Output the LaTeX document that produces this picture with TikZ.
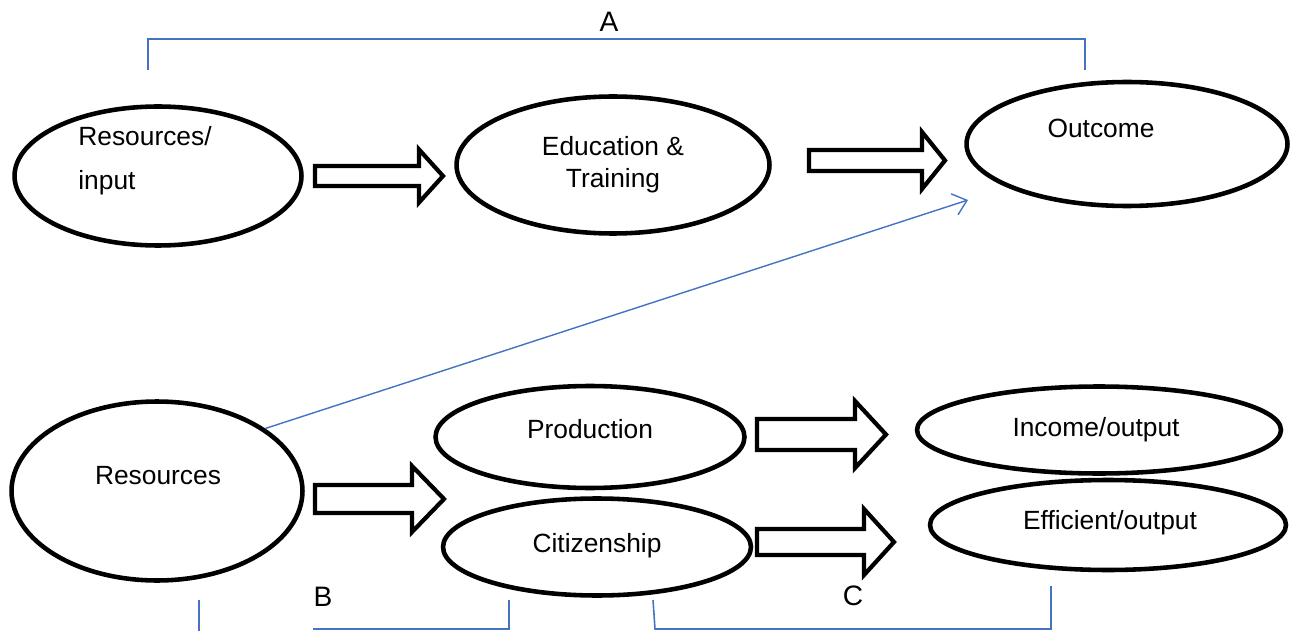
\documentclass[tikz,border=0pt]{standalone}
\usepackage{fontspec}
\setmainfont{Liberation Sans}
\usetikzlibrary{shapes.geometric,arrows.meta,positioning,calc}
\definecolor{azulLinha}{RGB}{68,114,196}
\tikzset{
  oval/.style={ellipse, draw=black, line width=2.6pt, inner sep=0pt},
  texto/.style={font=\fontsize{15}{18}\selectfont, inner sep=0pt, anchor=base},
  letra/.style={font=\fontsize{16}{19}\selectfont, inner sep=0pt, anchor=base},
  % block arrow: length, shaft half width, head half width, head length
  pics/setabloco/.style n args={4}{code={
    \draw[line width=2.4pt, line join=miter]
      (0,-#2) -- ({#1-#4},-#2) -- ({#1-#4},-#3) -- (#1,0)
      -- ({#1-#4},#3) -- ({#1-#4},#2) -- (0,#2) -- cycle;
  }},
  chave/.style={azulLinha, line width=0.9pt},
  seta/.style={-{Straight Barb[length=2.6mm,width=4.4mm]}, azulLinha, line width=0.8pt},
}
\begin{document}
\begin{tikzpicture}[x=0.02cm,y=-0.02cm]
  \useasboundingbox (0,0) rectangle (1300,631);
  % first row
  \node[oval, minimum width=5.74cm, minimum height=2.78cm] (recursos) at (158,176) {};
  \node[oval, minimum width=6.26cm, minimum height=2.74cm] (educacao) at (613,165) {};
  \node[oval, minimum width=6.42cm, minimum height=2.48cm] (resultado) at (1127,144) {};
  \node[texto, anchor=base west] (tRec) at (78,146) {Resources/};
  \node[texto, anchor=base west] (tInp) at (78,190) {input};
  \node[texto] (tEdu) at (613,156) {Education \&};
  \node[texto] (tTre) at (613,188) {Training};
  \node[texto] (tRes) at (1101,138) {Outcome};
  \pic (s1) at (315,176) {setabloco={128}{10}{26.5}{24}};
  \pic (s2) at (809,160.5) {setabloco={136}{10.5}{28.5}{23}};
  % second row
  \node[oval, minimum width=5.82cm, minimum height=3.58cm] (recursos2) at (157,491) {};
  \node[oval, minimum width=6.18cm, minimum height=2.04cm] (producao) at (590,437) {};
  \node[oval, minimum width=6.16cm, minimum height=1.94cm] (cidadania) at (597,547) {};
  \node[oval, minimum width=7.28cm, minimum height=1.74cm] (renda) at (1099,430) {};
  \node[oval, minimum width=7.12cm, minimum height=1.80cm] (eficiencia) at (1108,525) {};
  \node[texto] (tRec2) at (158,484) {Resources};
  \node[texto] (tPro) at (590,438) {Production};
  \node[texto] (tCid) at (597,552) {Citizenship};
  \node[texto] (tRen) at (1096,436) {Income/output};
  \node[texto] (tEfi) at (1110,529) {Efficient/output};
  \pic (s3) at (315,499) {setabloco={129}{14}{33}{32}};
  \pic (s4) at (757,434.5) {setabloco={129}{15.5}{33.5}{31}};
  \pic (s5) at (757,542) {setabloco={137}{13}{33}{30}};
  % link to outcome
  \coordinate (pontaB) at (968,200);
  \draw[seta] (recursos2.30) -- (pontaB);
  % brackets
  \draw[chave] (148,70) -- (148,39) -- (1085,39) -- (1085,70);
  \node[letra] (lA) at (609,32) {A};
  \draw[chave] (199,600) -- (199,631);
  \draw[chave] (313,629) -- (509,629) -- (509,600);
  \node[letra] (lB) at (323,606) {B};
  \draw[chave] (653,600) -- (655,629) -- (1051,629) -- (1051,586);
  \node[letra] (lC) at (853,605) {C};
\end{tikzpicture}
\end{document}
